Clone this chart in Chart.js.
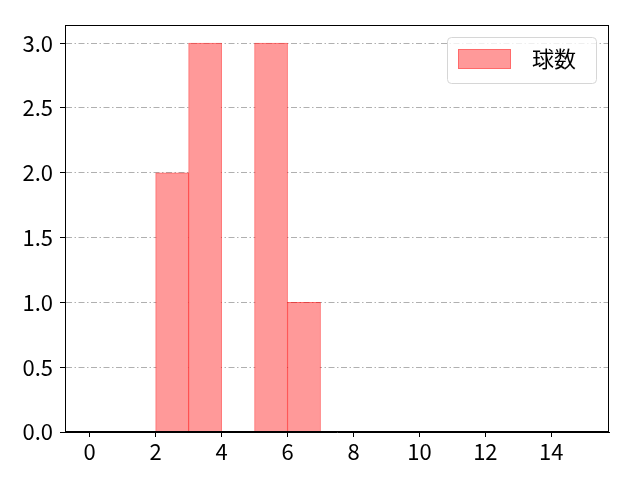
<!DOCTYPE html>
<html>
<head>
<meta charset="utf-8">
<script src="https://cdn.jsdelivr.net/npm/chart.js@4/dist/chart.umd.min.js"></script>
<style>
  html, body { margin: 0; padding: 0; background: #fff; }
  #wrap { width: 640px; height: 480px; }
</style>
</head>
<body>
<div id="wrap"><canvas id="myChart" width="640" height="480"></canvas></div>
<script>
// histogram bins (left edges) and counts
const binStarts = [2, 3, 4, 5, 6];
const counts = [2, 3, 0, 3, 1];
const xTicks = [0, 2, 4, 6, 8, 10, 12, 14];
const yTicks = [0, 0.5, 1.0, 1.5, 2.0, 2.5, 3.0];
const seriesLabel = '球数';

const FONT = "'Noto Sans CJK JP', sans-serif";

// legend inside the plot + box border on all four sides
const frameAndLegend = {
    id: 'frameAndLegend',
    afterDraw(chart) {
        const ctx = chart.ctx;
        const a = chart.chartArea;
        ctx.save();
        ctx.strokeStyle = '#000';
        ctx.lineWidth = 1;
        ctx.strokeRect(a.left + 0.5, a.top + 0.5, a.right - a.left - 1, a.bottom - a.top - 1);

        // legend box
        const bx = 447.5, by = 37.5, bw = 149, bh = 46;
        ctx.beginPath();
        ctx.roundRect(bx, by, bw, bh, 4);
        ctx.fillStyle = 'rgba(255,255,255,0.8)';
        ctx.fill();
        ctx.strokeStyle = '#d6d6d6';
        ctx.stroke();

        ctx.fillStyle = '#ff9999';
        ctx.fillRect(458, 49, 53, 20);
        ctx.strokeStyle = 'rgba(255,0,0,0.3)';
        ctx.strokeRect(458.5, 49.5, 52, 19);

        ctx.fillStyle = '#000';
        ctx.font = '22px ' + FONT;
        ctx.textBaseline = 'middle';
        ctx.textAlign = 'left';
        ctx.fillText(seriesLabel, 532, 59);
        ctx.restore();
    }
};

const ctx = document.getElementById('myChart').getContext('2d');
const myChart = new Chart(ctx, {
    type: 'bar',
    data: {
        datasets: [{
            label: seriesLabel,
            data: binStarts.map((b, i) => ({ x: b + 0.5, y: counts[i] })),
            backgroundColor: '#ff9999',
            borderColor: 'rgba(255,0,0,0.6)',
            borderWidth: 1,
            barPercentage: 1,
            categoryPercentage: 1
        }]
    },
    plugins: [frameAndLegend],
    options: {
        responsive: false,
        animation: false,
        layout: { padding: { top: 25, right: 31, left: 0, bottom: 0 } },
        plugins: {
            legend: { display: false },
            tooltip: { enabled: false }
        },
        scales: {
            x: {
                type: 'linear',
                offset: false,
                min: -0.75,
                max: 15.75,
                afterBuildTicks: (axis) => { axis.ticks = xTicks.map(v => ({ value: v })); },
                afterFit: (axis) => { axis.height = 48; },
                grid: {
                    offset: false,
                    drawOnChartArea: false,
                    drawTicks: true,
                    tickLength: 5,
                    tickColor: '#000'
                },
                border: { display: true, color: '#000', width: 1 },
                ticks: {
                    color: '#000',
                    font: { family: FONT, size: 22 },
                    padding: 1,
                    maxRotation: 0,
                    autoSkip: false
                }
            },
            y: {
                min: 0,
                max: 3.14,
                afterBuildTicks: (axis) => { axis.ticks = yTicks.map(v => ({ value: v })); },
                afterFit: (axis) => { axis.width = 65; },
                grid: {
                    color: '#b0b0b0',
                    tickBorderDash: [],
                    tickColor: '#000',
                    tickLength: 5,
                    lineWidth: 1
                },
                border: { display: true, color: '#000', width: 1, dash: [6, 2.5, 1.5, 2.5] },
                ticks: {
                    color: '#000',
                    font: { family: FONT, size: 22 },
                    padding: 7,
                    autoSkip: false,
                    callback: (v) => Number(v).toFixed(1)
                }
            }
        }
    }
});
</script>
</body>
</html>
